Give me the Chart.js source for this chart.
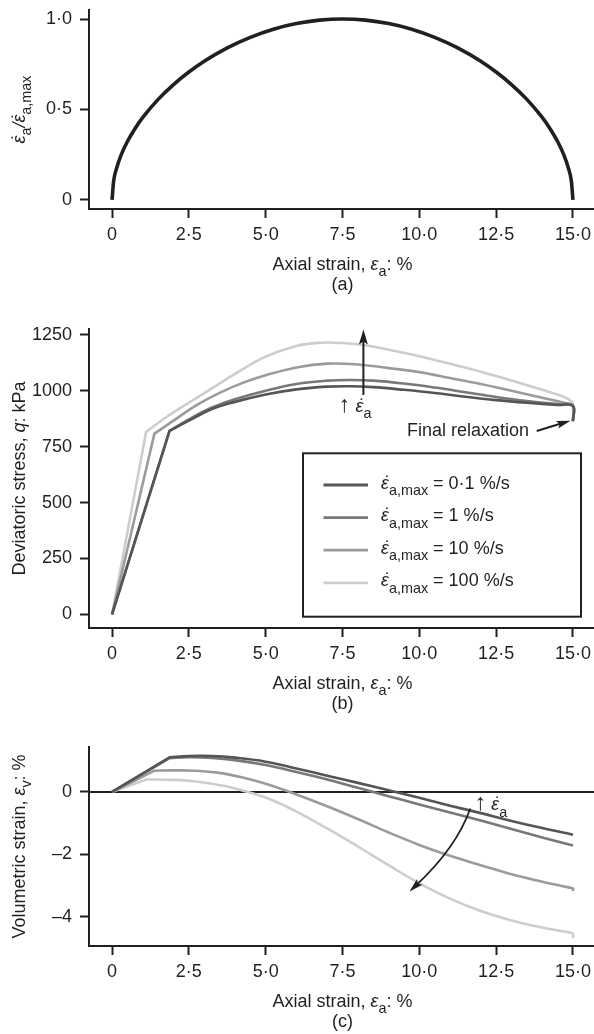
<!DOCTYPE html>
<html><head><meta charset="utf-8">
<script src="https://cdn.jsdelivr.net/npm/chart.js@4"></script>
<style>
html,body{margin:0;padding:0;background:#fff;overflow:hidden;width:594px;height:1034px;position:relative;}
canvas{position:absolute;left:0;}
</style></head><body>
<canvas id="ca" width="600" height="300" style="top:0px;width:600px;height:300px"></canvas>
<canvas id="cb" width="600" height="420" style="top:300px;width:600px;height:420px"></canvas>
<canvas id="cc" width="600" height="314" style="top:720px;width:600px;height:314px"></canvas>
<script>
// ---------------- data ----------------
const xTickValues = [0, 2.5, 5, 7.5, 10, 12.5, 15];
const xTickLabels = ['0', '2·5', '5·0', '7·5', '10·0', '12·5', '15·0'];
const yTickValuesA = [0, 0.5, 1];
const yTickLabelsA = ['0', '0·5', '1·0'];
const yTickValuesB = [0, 250, 500, 750, 1000, 1250];
const yTickLabelsB = ['0', '250', '500', '750', '1000', '1250'];
const yTickValuesC = [-4, -2, 0];
const yTickLabelsC = ['–4', '–2', '0'];
const rateLabels = ['0·1', '1', '10', '100'];

// (a) normalised strain rate
const strainA = [0, 0.05, 0.15, 0.3, 0.5, 0.75, 1.0, 1.5, 2.0, 2.5, 3.0, 3.75, 4.5, 5.25, 6.0, 6.75, 7.5, 8.25, 9.0, 9.75, 10.5, 11.25, 12.0, 12.5, 13.0, 13.5, 14.0, 14.25, 14.5, 14.7, 14.85, 14.95, 15.0];
const rateA   = [0, 0.102, 0.177, 0.251, 0.323, 0.395, 0.456, 0.556, 0.638, 0.707, 0.767, 0.841, 0.899, 0.944, 0.975, 0.994, 1.0, 0.994, 0.975, 0.944, 0.899, 0.841, 0.767, 0.707, 0.638, 0.556, 0.456, 0.395, 0.323, 0.251, 0.177, 0.102, 0];

// (b) deviatoric stress
const strainB01 = [0, 1.87, 1.87, 2.5, 3.25, 4.0, 5.0, 6.0, 7.0, 7.75, 8.5, 9.5, 10.5, 11.5, 12.5, 13.5, 14.5, 15.0, 15.0];
const stressB01 = [0, 820, 820, 866, 918, 950, 983, 1006, 1018, 1020, 1016, 1004, 990, 973, 958, 946, 936, 931, 866];
const strainB1  = [0, 1.87, 1.87, 2.5, 3.25, 4.0, 5.0, 6.0, 7.0, 7.75, 8.5, 9.5, 10.5, 11.5, 12.5, 13.5, 14.5, 15.0, 15.0];
const stressB1  = [0, 820, 820, 872, 925, 962, 1000, 1030, 1045, 1048, 1045, 1032, 1014, 993, 972, 954, 940, 933, 864];
const strainB10 = [0, 1.38, 1.38, 2.0, 2.75, 3.5, 4.25, 5.0, 6.0, 7.0, 8.0, 9.0, 10.0, 11.0, 12.0, 13.0, 14.0, 14.75, 15.0, 15.0];
const stressB10 = [0, 808, 808, 866, 935, 990, 1035, 1069, 1104, 1121, 1117, 1101, 1083, 1057, 1030, 1000, 968, 945, 932, 862];
const strainB100 = [0, 1.11, 1.11, 1.75, 2.5, 3.25, 4.0, 5.0, 6.0, 6.75, 7.5, 8.25, 9.0, 10.0, 11.0, 12.0, 13.0, 14.0, 14.6, 14.9, 15.0, 15.0];
const stressB100 = [0, 816, 816, 880, 946, 1010, 1075, 1152, 1200, 1214, 1213, 1203, 1183, 1154, 1120, 1085, 1046, 1004, 978, 958, 940, 860];

// (c) volumetric strain
const strainC01 = [0, 1.87, 1.87, 2.5, 3.25, 4.0, 5.0, 6.0, 7.0, 8.0, 9.0, 10.0, 11.0, 12.0, 13.0, 14.0, 15.0];
const volC01    = [0, 1.11, 1.11, 1.15, 1.15, 1.10, 0.97, 0.75, 0.52, 0.29, 0.05, -0.19, -0.44, -0.68, -0.93, -1.16, -1.37];
const strainC1  = [0, 1.87, 1.87, 2.5, 3.25, 4.0, 5.0, 6.0, 7.0, 8.0, 9.0, 10.0, 11.0, 12.0, 13.0, 14.0, 15.0];
const volC1     = [0, 1.08, 1.08, 1.11, 1.09, 1.02, 0.86, 0.64, 0.40, 0.13, -0.14, -0.40, -0.66, -0.92, -1.19, -1.46, -1.72];
const strainC10 = [0, 1.38, 1.38, 2.0, 2.75, 3.5, 4.25, 5.0, 6.0, 7.0, 8.0, 9.0, 10.0, 11.0, 12.0, 13.0, 14.0, 14.85, 15.0, 15.0];
const volC10    = [0, 0.68, 0.68, 0.69, 0.68, 0.61, 0.46, 0.26, -0.08, -0.46, -0.87, -1.30, -1.70, -2.05, -2.35, -2.64, -2.88, -3.06, -3.10, -3.18];
const strainC100 = [0, 1.11, 1.11, 1.75, 2.5, 3.25, 4.0, 5.0, 6.0, 7.0, 8.0, 9.0, 10.0, 11.0, 12.0, 13.0, 14.0, 14.85, 15.0, 15.0];
const volC100    = [0, 0.40, 0.40, 0.39, 0.36, 0.26, 0.11, -0.18, -0.63, -1.17, -1.75, -2.35, -2.93, -3.42, -3.82, -4.12, -4.35, -4.50, -4.55, -4.68];

// ---------------- style ----------------
const FONT = '"Liberation Sans", Arial, Helvetica, sans-serif';
const FS = 18;
const SUB = 0.8;
const INK = '#231f20';
const seriesColors = ['#555555', '#787878', '#9b9b9b', '#cdcdcd'];
Chart.defaults.font.family = FONT;
Chart.defaults.font.size = FS;
Chart.defaults.color = INK;
Chart.defaults.animation = false;

function xy(xs, ys) { return xs.map((x, i) => ({ x: x, y: ys[i] })); }

// kinds: n normal, i italic, s subscript, d italic with dot above, u arrow symbol
function fontFor(k, size) {
  let s = size;
  if (k.indexOf('s') >= 0) s = size * SUB;
  if (k === 'u') s = size * 1.3;
  const it = (k.indexOf('i') >= 0 || k === 'd') ? 'italic ' : '';
  return it + s + 'px ' + FONT;
}
function richText(ctx, segs, x, y, size, align) {
  ctx.save();
  ctx.textBaseline = 'alphabetic';
  ctx.textAlign = 'left';
  ctx.fillStyle = INK;
  let w = 0;
  const ws = segs.map(s => { ctx.font = fontFor(s[1], size); const m = ctx.measureText(s[0]).width; w += m; return m; });
  let cx = align === 'center' ? x - w / 2 : (align === 'right' ? x - w : x);
  segs.forEach((s, i) => {
    ctx.font = fontFor(s[1], size);
    const dy = s[1].indexOf('s') >= 0 ? size * 0.36 : 0;
    ctx.fillText(s[0], cx, y + dy);
    if (s[1] === 'd') {
      ctx.textAlign = 'center';
      ctx.fillText('\u02D9', cx + ws[i] * 0.5 + size * 0.06, y);
      ctx.textAlign = 'left';
    }
    cx += ws[i];
  });
  ctx.restore();
}
function head(ctx, x, y, a, hl, hw) {
  const c = Math.cos(a), s = Math.sin(a);
  ctx.beginPath();
  ctx.moveTo(x, y);
  ctx.lineTo(x - hl * c + hw / 2 * s, y - hl * s - hw / 2 * c);
  ctx.lineTo(x - hl * 0.8 * c, y - hl * 0.8 * s);
  ctx.lineTo(x - hl * c - hw / 2 * s, y - hl * s + hw / 2 * c);
  ctx.closePath();
  ctx.fill();
}
function arrowLine(ctx, x1, y1, x2, y2, hl, hw) {
  const a = Math.atan2(y2 - y1, x2 - x1);
  ctx.beginPath();
  ctx.moveTo(x1, y1);
  ctx.lineTo(x2 - hl * 0.7 * Math.cos(a), y2 - hl * 0.7 * Math.sin(a));
  ctx.stroke();
  head(ctx, x2, y2, a, hl, hw);
}

const xTitleSegs = [['Axial strain, ', 'n'], ['ε', 'i'], ['a', 's'], [': %', 'n']];
const rateSymbolSegs = [['↑', 'u'], [' ', 'n'], ['ε', 'd'], ['a', 's']];

function panelPlugin(label, ySegs, extra) {
  return {
    id: 'panel' + label.replace(/[()]/g, ''),
    beforeDatasetsDraw(chart) { if (extra && extra.before) extra.before(chart); },
    afterDraw(chart) {
      const ctx = chart.ctx, ca = chart.chartArea;
      const cx = (ca.left + ca.right) / 2;
      richText(ctx, xTitleSegs, cx, ca.bottom + 61, FS, 'center');
      ctx.save(); ctx.font = FS + 'px ' + FONT; ctx.fillStyle = INK; ctx.textAlign = 'center'; ctx.textBaseline = 'alphabetic';
      ctx.fillText(label, cx, ca.bottom + 81); ctx.restore();
      ctx.save();
      ctx.translate(25, (ca.top + ca.bottom) / 2);
      ctx.rotate(-Math.PI / 2);
      richText(ctx, ySegs, 0, 0, FS, 'center');
      ctx.restore();
      if (extra && extra.after) extra.after(chart);
    }
  };
}

function xScale(H, bottom) {
  return {
    type: 'linear', min: -0.75, max: 15.75,
    afterBuildTicks: s => { s.ticks = xTickValues.map(v => ({ value: v })); },
    afterFit: s => { s.height = H - bottom; s.paddingLeft = 0; s.paddingRight = 0; },
    ticks: { autoSkip: false, maxRotation: 0, minRotation: 0, padding: 6, color: INK,
      callback: v => xTickLabels[xTickValues.indexOf(v)] },
    grid: { display: true, drawOnChartArea: false, drawTicks: true, tickLength: 9, tickWidth: 2, tickColor: INK },
    border: { display: true, color: INK, width: 2 }
  };
}
function yScale(min, max, vals, labels) {
  return {
    type: 'linear', min: min, max: max,
    afterBuildTicks: s => { s.ticks = vals.map(v => ({ value: v })); },
    afterFit: s => { s.width = 89; s.paddingTop = 0; s.paddingBottom = 0; },
    ticks: { autoSkip: false, padding: 8, color: INK,
      callback: v => labels[vals.indexOf(v)] },
    grid: { display: true, drawOnChartArea: false, drawTicks: true, tickLength: 9, tickWidth: 2, tickColor: INK },
    border: { display: true, color: INK, width: 2 }
  };
}
function ds(xs, ys, color, w, mode) {
  const d = { data: xy(xs, ys), borderColor: color, borderWidth: w, pointRadius: 0, pointHoverRadius: 0,
    tension: 0.4, fill: false, borderCapStyle: 'butt', borderJoinStyle: 'round' };
  if (mode) d.cubicInterpolationMode = mode;
  return d;
}
function baseOptions(top, H, bottom, yOpts) {
  return {
    responsive: false, animation: false, devicePixelRatio: 1,
    layout: { padding: { top: top, right: 4, bottom: 0, left: 0 } },
    plugins: { legend: { display: false }, tooltip: { enabled: false } },
    scales: { x: xScale(H, bottom), y: yOpts }
  };
}

// ---------------- chart (a) ----------------
new Chart(document.getElementById('ca'), {
  type: 'line',
  data: { datasets: [ds(strainA, rateA, INK, 3.6, 'monotone')] },
  options: baseOptions(10, 300, 209, yScale(-0.05, 1.05, yTickValuesA, yTickLabelsA)),
  plugins: [panelPlugin('(a)', [['ε', 'd'], ['a', 's'], ['/', 'i'], ['ε', 'd'], ['a,max', 's']])]
});

// ---------------- chart (b) ----------------
const extraB = {
  after(chart) {
    const ctx = chart.ctx, ca = chart.chartArea, x = chart.scales.x, y = chart.scales.y;
    ctx.save();
    ctx.strokeStyle = INK; ctx.fillStyle = INK; ctx.lineWidth = 2;
    arrowLine(ctx, x.getPixelForValue(8.18), y.getPixelForValue(981), x.getPixelForValue(8.18), y.getPixelForValue(1273), 15, 9);
    richText(ctx, rateSymbolSegs, x.getPixelForValue(7.38), y.getPixelForValue(906), FS, 'left');
    richText(ctx, [['Final relaxation', 'n']], x.getPixelForValue(9.6), y.getPixelForValue(797), FS, 'left');
    ctx.lineWidth = 2;
    arrowLine(ctx, x.getPixelForValue(13.82), y.getPixelForValue(820), x.getPixelForValue(14.92), y.getPixelForValue(866), 14, 8);
    // legend
    const L = ca.left + 214, T = ca.top + 124.3, R = ca.left + 492, B = ca.top + 287.7;
    ctx.fillStyle = '#fff'; ctx.fillRect(L, T, R - L, B - T);
    ctx.lineWidth = 2; ctx.strokeStyle = INK; ctx.strokeRect(L, T, R - L, B - T);
    rateLabels.forEach((lab, i) => {
      const yy = T + 31.7 + i * 32.6;
      ctx.strokeStyle = seriesColors[i]; ctx.lineWidth = 2.8;
      ctx.beginPath(); ctx.moveTo(L + 20.5, yy); ctx.lineTo(L + 65, yy); ctx.stroke();
      richText(ctx, [['ε', 'd'], ['a,max', 's'], [' = ' + lab + ' %/s', 'n']], L + 78, yy + 3.5, FS, 'left');
    });
    ctx.restore();
  }
};
new Chart(document.getElementById('cb'), {
  type: 'line',
  data: { datasets: [
    ds(strainB01, stressB01, seriesColors[0], 2.6),
    ds(strainB1, stressB1, seriesColors[1], 2.6),
    ds(strainB10, stressB10, seriesColors[2], 2.6),
    ds(strainB100, stressB100, seriesColors[3], 2.6)
  ] },
  options: baseOptions(29, 420, 328, yScale(-60.75, 1275.75, yTickValuesB, yTickLabelsB)),
  plugins: [panelPlugin('(b)', [['Deviatoric stress, ', 'n'], ['q', 'i'], [': kPa', 'n']], extraB)]
});

// ---------------- chart (c) ----------------
const extraC = {
  before(chart) {
    const ctx = chart.ctx, ca = chart.chartArea, y = chart.scales.y;
    const y0 = y.getPixelForValue(0);
    ctx.save(); ctx.strokeStyle = INK; ctx.lineWidth = 2;
    ctx.beginPath(); ctx.moveTo(ca.left, y0); ctx.lineTo(ca.right, y0); ctx.stroke();
    ctx.restore();
  },
  after(chart) {
    const ctx = chart.ctx, x = chart.scales.x, y = chart.scales.y;
    ctx.save();
    ctx.strokeStyle = INK; ctx.fillStyle = INK; ctx.lineWidth = 1.8;
    const p0 = [x.getPixelForValue(11.66), y.getPixelForValue(-0.53)];
    const c1 = [x.getPixelForValue(11.2), y.getPixelForValue(-1.8)];
    const p2 = [x.getPixelForValue(9.68), y.getPixelForValue(-3.19)];
    const a = Math.atan2(p2[1] - c1[1], p2[0] - c1[0]);
    ctx.beginPath();
    ctx.moveTo(p0[0], p0[1]);
    ctx.quadraticCurveTo(c1[0], c1[1], p2[0] - 8 * Math.cos(a), p2[1] - 8 * Math.sin(a));
    ctx.stroke();
    head(ctx, p2[0], p2[1], a, 14, 8);
    richText(ctx, rateSymbolSegs, x.getPixelForValue(11.8), y.getPixelForValue(-0.587), FS, 'left');
    ctx.restore();
  }
};
new Chart(document.getElementById('cc'), {
  type: 'line',
  data: { datasets: [
    ds(strainC01, volC01, seriesColors[0], 2.6),
    ds(strainC1, volC1, seriesColors[1], 2.6),
    ds(strainC10, volC10, seriesColors[2], 2.6),
    ds(strainC100, volC100, seriesColors[3], 2.6)
  ] },
  options: baseOptions(27, 314, 226, yScale(-4.94, 1.44, yTickValuesC, yTickLabelsC)),
  plugins: [panelPlugin('(c)', [['Volumetric strain, ', 'n'], ['ε', 'i'], ['v', 's'], [': %', 'n']], extraC)]
});
</script></body></html>
